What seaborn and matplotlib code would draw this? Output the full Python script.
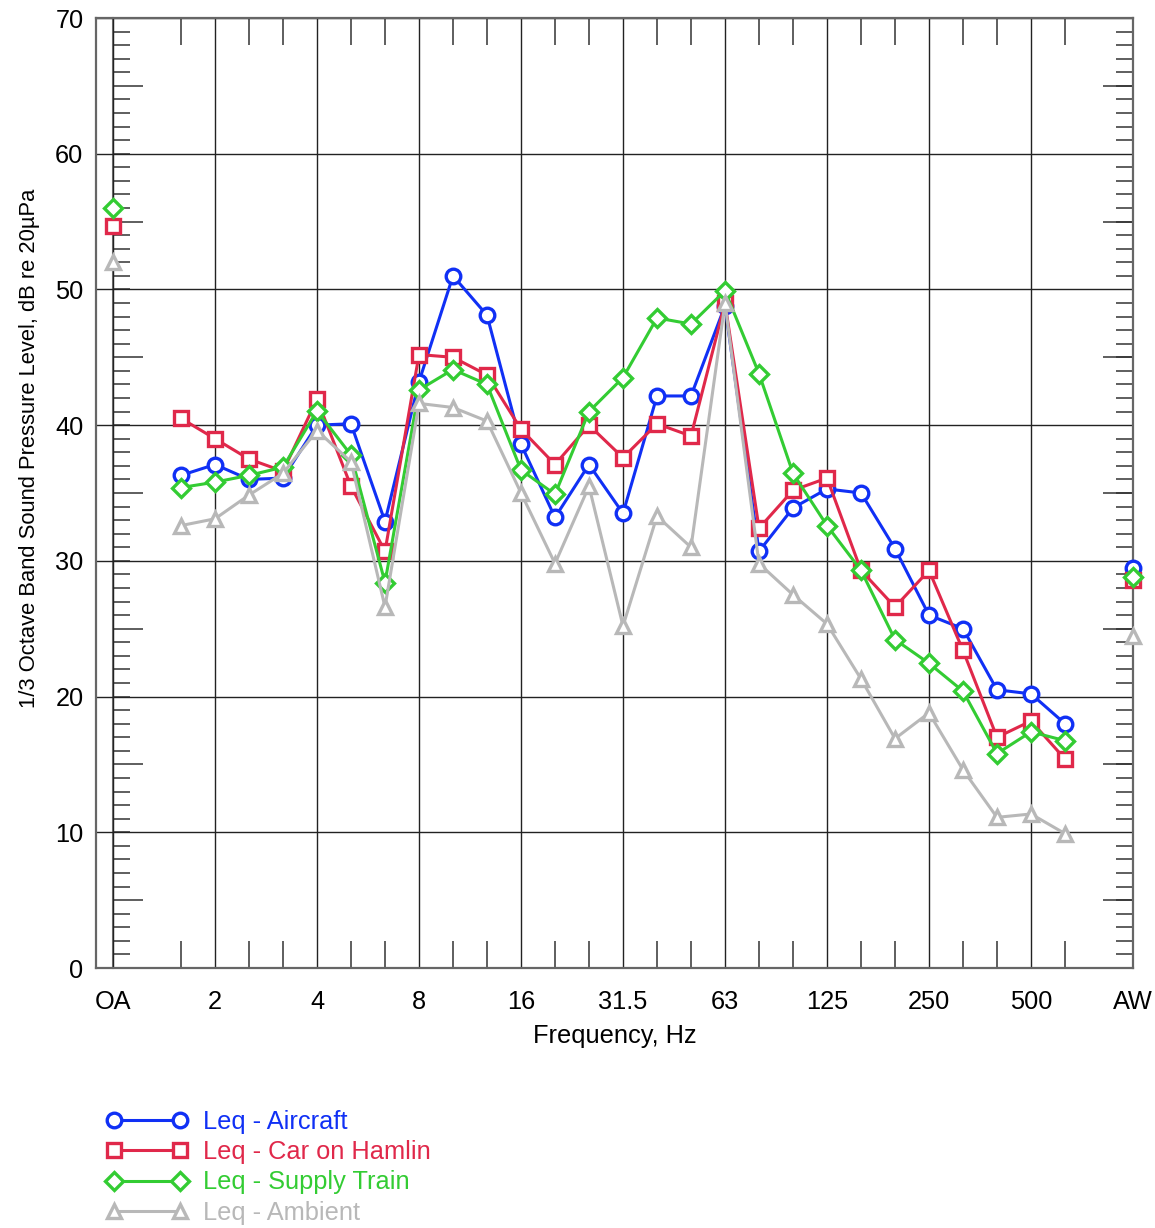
import numpy as np
import pandas as pd
import matplotlib
matplotlib.use("Agg")
import matplotlib.pyplot as plt
from matplotlib.ticker import FixedLocator, MultipleLocator, NullFormatter
from matplotlib.lines import Line2D
import seaborn as sns

# ---------------- data ----------------
band_labels = ["1.6", "2", "2.5", "3.15", "4", "5", "6.3", "8", "10", "12.5", "16",
               "20", "25", "31.5", "40", "50", "63", "80", "100", "125", "160",
               "200", "250", "315", "400", "500", "630"]
tick_labels = ["OA", "2", "4", "8", "16", "31.5", "63", "125", "250", "500", "AW"]

aircraft = [36.3, 37.1, 36.0, 36.1, 40.0, 40.1, 32.9, 43.2, 51.0, 48.1, 38.6,
            33.2, 37.1, 33.5, 42.15, 42.15, 48.8, 30.7, 33.9, 35.3, 35.0,
            30.9, 26.0, 25.0, 20.5, 20.2, 18.0]
car = [40.5, 39.0, 37.5, 36.6, 41.9, 35.5, 30.7, 45.2, 45.0, 43.7, 39.7,
       37.1, 40.0, 37.6, 40.1, 39.2, 49.0, 32.4, 35.2, 36.1, 29.3,
       26.6, 29.3, 23.4, 17.0, 18.2, 15.4]
train = [35.4, 35.8, 36.3, 36.9, 41.05, 37.8, 28.4, 42.6, 44.1, 43.0, 36.7,
         34.9, 41.0, 43.5, 47.9, 47.45, 49.9, 43.8, 36.45, 32.6, 29.3,
         24.2, 22.45, 20.4, 15.8, 17.4, 16.75]
ambient = [32.6, 33.1, 34.85, 36.45, 39.6, 37.3, 26.6, 41.6, 41.3, 40.3, 35.0,
           29.8, 35.5, 25.2, 33.3, 31.0, 49.0, 29.8, 27.5, 25.35, 21.3,
           16.9, 18.8, 14.6, 11.1, 11.35, 9.9]

oa_values = {"Leq - Car on Hamlin": 54.7, "Leq - Supply Train": 56.0, "Leq - Ambient": 52.0}
aw_values = {"Leq - Aircraft": 29.5, "Leq - Car on Hamlin": 28.6,
             "Leq - Supply Train": 28.8, "Leq - Ambient": 24.5}

series_names = ["Leq - Aircraft", "Leq - Car on Hamlin", "Leq - Supply Train", "Leq - Ambient"]
series_values = [aircraft, car, train, ambient]
colors = ["#1030f5", "#e0284a", "#33cc33", "#b8b8b8"]
markers = ["o", "s", "D", "^"]
msizes = [10.5, 10.5, 9.5, 10.5]

# positions: OA = 0, bands 2..28, AW = 30
band_pos = np.arange(2, 2 + len(band_labels))
OA_POS, AW_POS = 0, 30
tick_pos = [0, 3, 6, 9, 12, 15, 18, 21, 24, 27, 30]

# ---------------- style ----------------
sns.set_style("white")
plt.rcParams["font.family"] = ["Liberation Sans", "DejaVu Sans"]
plt.rcParams["text.color"] = "black"
plt.rcParams["axes.labelcolor"] = "black"
plt.rcParams["xtick.color"] = "black"
plt.rcParams["ytick.color"] = "black"
FS = 18.3
LW = 2.2
MEW = 2.4

fig = plt.figure(figsize=(11.55, 12.28), dpi=100)
ax = fig.add_axes([96 / 1155, 1 - 968 / 1228, (1133 - 96) / 1155, (968 - 18) / 1228])

handles = []
for name, vals, c, m, ms in zip(series_names, series_values, colors, markers, msizes):
    df = pd.DataFrame({"pos": band_pos, "val": vals})
    sns.lineplot(data=df, x="pos", y="val", ax=ax, color=c, marker=m,
                 markersize=ms, markeredgewidth=MEW, markerfacecolor="white",
                 markeredgecolor=c, linewidth=LW, legend=False, zorder=3)
    if name in oa_values:
        sns.lineplot(x=[OA_POS], y=[oa_values[name]], ax=ax, color=c, marker=m,
                     markersize=ms, markeredgewidth=MEW, markerfacecolor="white",
                     markeredgecolor=c, linewidth=0, legend=False, zorder=3)
    if name in aw_values:
        sns.lineplot(x=[AW_POS], y=[aw_values[name]], ax=ax, color=c, marker=m,
                     markersize=ms, markeredgewidth=MEW, markerfacecolor="white",
                     markeredgecolor=c, linewidth=0, legend=False, zorder=4, clip_on=False)
    handles.append(Line2D([0], [0], color=c, marker=m, markersize=ms,
                          markeredgewidth=MEW, markerfacecolor="white",
                          markeredgecolor=c, linewidth=LW, label=name))

ax.set_xlim(-0.5, 30)
ax.set_ylim(0, 70)

# x ticks
ax.xaxis.set_major_locator(FixedLocator(tick_pos))
ax.set_xticklabels(tick_labels, fontsize=FS)
minor_x = [p for p in band_pos if p % 3 != 0]
ax.xaxis.set_minor_locator(FixedLocator(minor_x))
ax.tick_params(axis="x", which="major", length=0, pad=16, labelcolor="black")
ax.tick_params(axis="x", which="minor", direction="in", length=19.5, width=1.1,
               color="#333333", top=True, bottom=True)

# y ticks (labels on left, ticks on the right / AW side)
ax.yaxis.set_major_locator(MultipleLocator(10))
ax.yaxis.set_minor_locator(MultipleLocator(1))
ax.tick_params(axis="y", which="major", length=0, pad=9, labelsize=FS, left=True, right=False,
               labelcolor="black")
ax.tick_params(axis="y", which="minor", direction="in", length=12.5, width=1.1,
               color="#333333", left=False, right=True)

# 5 dB ticks on right side
sec_r = ax.secondary_yaxis("right")
sec_r.yaxis.set_major_locator(FixedLocator([5, 15, 25, 35, 45, 55, 65]))
sec_r.yaxis.set_minor_locator(FixedLocator([]))
sec_r.yaxis.set_major_formatter(NullFormatter())
sec_r.tick_params(axis="y", direction="in", length=21.5, width=1.1, color="#333333")
sec_r.spines["right"].set_visible(False)

# OA vertical axis with inward ticks
oa_frac = (OA_POS + 0.5) / 30.5
sec_oa = ax.secondary_yaxis(oa_frac)
sec_oa.yaxis.set_major_locator(FixedLocator([5, 15, 25, 35, 45, 55, 65]))
sec_oa.yaxis.set_minor_locator(MultipleLocator(1))
sec_oa.yaxis.set_major_formatter(NullFormatter())
sec_oa.yaxis.set_minor_formatter(NullFormatter())
sec_oa.tick_params(axis="y", which="major", direction="in", length=21.5, width=1.1, color="#333333")
sec_oa.tick_params(axis="y", which="minor", direction="in", length=12.5, width=1.1, color="#333333")
sec_oa.spines["left"].set_color("#777777")
sec_oa.spines["left"].set_linewidth(1.5)

# grid
ax.grid(True, which="major", axis="both", color="#222222", linewidth=1.0)
ax.set_axisbelow(True)

for s in ax.spines.values():
    s.set_visible(True)
    s.set_color("#666666")
    s.set_linewidth(1.6)

ax.set_xlabel("Frequency, Hz", fontsize=FS, labelpad=7, color="black")
ax.set_ylabel("1/3 Octave Band Sound Pressure Level, dB re 20µPa", fontsize=15.8, color="black")
ax.yaxis.set_label_coords(-0.054, 0.547)

leg = fig.legend(handles=handles, loc="upper left", bbox_to_anchor=(94 / 1155, 1 - 1097 / 1228),
                 frameon=False, fontsize=FS, handlelength=3.2, handletextpad=0.6,
                 labelspacing=0.25, borderpad=0, numpoints=2, labelcolor="linecolor")

fig.savefig("out.png", dpi=100)
